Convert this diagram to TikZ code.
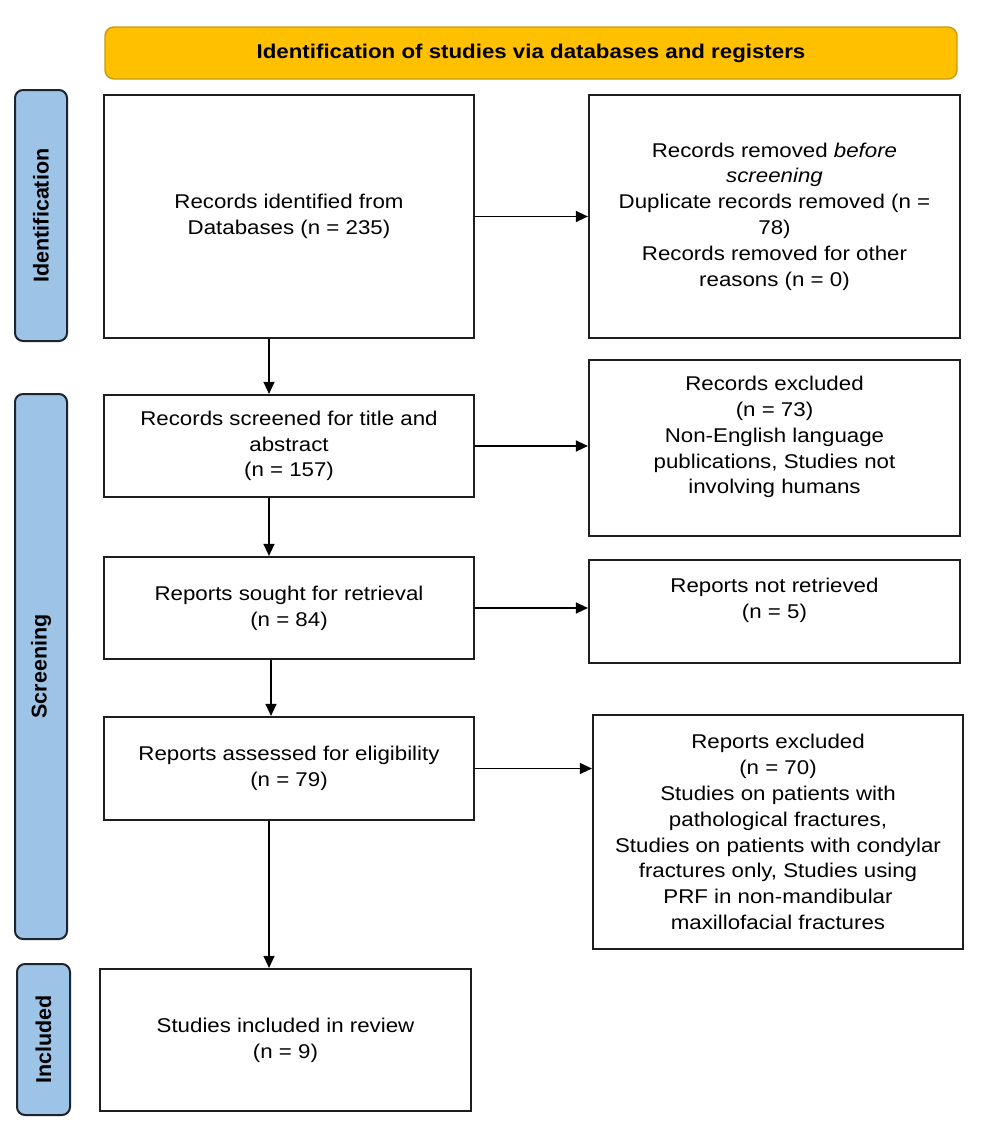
\documentclass[tikz,border=0pt]{standalone}
\usepackage{fontspec}
\setmainfont[FakeStretch=1.12]{Liberation Sans}
\newfontfamily\labfont{Liberation Sans}
\usetikzlibrary{arrows.meta}
\definecolor{bannerfill}{HTML}{FFC000}
\definecolor{bannerdraw}{HTML}{C99A10}
\definecolor{labfill}{HTML}{9DC3E6}
\definecolor{labdraw}{HTML}{1C2430}
\definecolor{boxdraw}{HTML}{1E1E1E}
\begin{document}
\begin{tikzpicture}[x=1pt,y=-1pt,
  box/.style={draw=boxdraw, line width=2.2pt, fill=white, inner sep=0pt, align=center,
    font=\fontsize{19.9}{25.8}\selectfont},
  phase/.style={draw=labdraw, line width=2pt, fill=labfill, rounded corners=8pt, rotate=90,
    inner sep=0pt, font=\labfont\bfseries\fontsize{21.5}{24}\selectfont},
  banner/.style={draw=bannerdraw, line width=1.4pt, fill=bannerfill, rounded corners=9pt,
    inner sep=0pt, font=\bfseries\fontsize{19.9}{24}\selectfont},
  arr/.style={draw=black, line width=1.3pt, -{Triangle[length=12pt,width=11pt]}}]
\useasboundingbox (0,0) rectangle (986,1130);
\fill[white] (0,0) rectangle (986,1130);

\node[banner, minimum width=852pt, minimum height=52pt] (ban) at (531,53)
  {Identification of studies via databases and registers};

\node[phase, minimum width=251pt, minimum height=52pt] (pid) at (41,215.5) {Identification};
\node[phase, minimum width=545pt, minimum height=52pt] (psc) at (41,666.5) {Screening};
\node[phase, minimum width=151pt, minimum height=53pt] (pin) at (43.5,1039.5) {Included};

\node[box, minimum width=370pt, minimum height=243pt] (A) at (289,216.5)
  {Records identified from\\Databases (n = 235)};
\node[box, minimum width=371pt, minimum height=243pt] (B) at (774.5,216.5)
  {Records removed \textit{before}\\\textit{screening}\\Duplicate records removed (n =\\78)\\Records removed for other\\reasons (n = 0)};
\node[box, minimum width=370pt, minimum height=102pt] (C) at (289,446)
  {Records screened for title and\\abstract\\(n = 157)};
\node[box, minimum width=371pt, minimum height=176pt] (D) at (774.5,448)
  {Records excluded\\(n = 73)\\Non-English language\\publications, Studies not\\involving humans\\\mbox{}};
\node[box, minimum width=370pt, minimum height=102pt] (E) at (289,608)
  {Reports sought for retrieval\\(n = 84)};
\node[box, minimum width=371pt, minimum height=103pt] (F) at (774.5,611.5)
  {Reports not retrieved\\(n = 5)\\\mbox{}};
\node[box, minimum width=370pt, minimum height=103pt] (G) at (289,768.5)
  {Reports assessed for eligibility\\(n = 79)};
\node[box, minimum width=370pt, minimum height=234pt] (H) at (778,832)
  {Reports excluded\\(n = 70)\\Studies on patients with\\pathological fractures,\\Studies on patients with condylar\\fractures only, Studies using\\PRF in non-mandibular\\maxillofacial fractures};
\node[box, minimum width=371pt, minimum height=142pt] (I) at (285.5,1040)
  {Studies included in review\\(n = 9)};

\coordinate (xa) at (269,0);
\coordinate (xb) at (271,0);

\draw[arr] (A.south -| xa) -- (C.north -| xa);
\draw[arr] (C.south -| xa) -- (E.north -| xa);
\draw[arr] (E.south -| xb) -- (G.north -| xb);
\draw[arr] (G.south -| xa) -- (I.north -| xa);

\draw[arr] (A.east) -- (A.east -| B.west);
\draw[arr] (C.east) -- (C.east -| D.west);
\draw[arr] (E.east) -- (E.east -| F.west);
\draw[arr] (G.east) -- (G.east -| H.west);
\end{tikzpicture}
\end{document}
